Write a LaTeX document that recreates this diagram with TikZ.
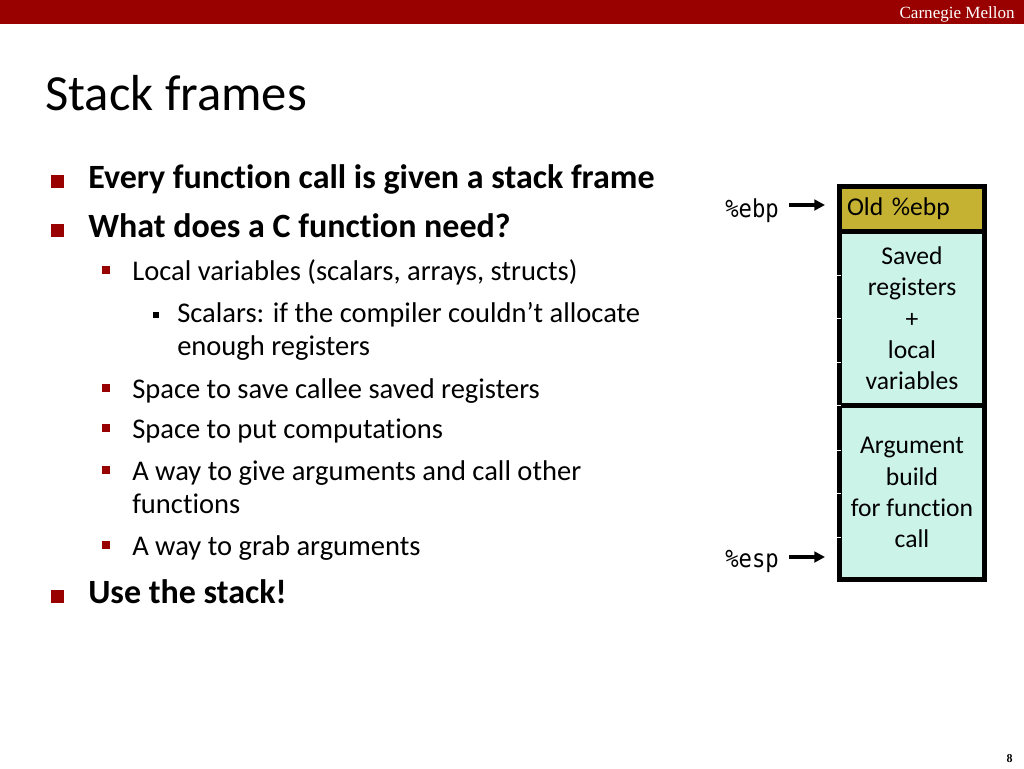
\documentclass[tikz,border=0pt]{standalone}
\usepackage{fontspec}
\setmainfont{Carlito}[Ligatures=NoCommon]
\newfontfamily\cmufont{Liberation Serif}
\newfontfamily\regfont{DejaVu Sans Mono}[FakeStretch=0.9]
\usetikzlibrary{positioning,arrows.meta}
\definecolor{cmured}{RGB}{153,0,0}
\definecolor{oldgold}{RGB}{197,178,50}
\definecolor{cellcyan}{RGB}{204,243,232}

\begin{document}
\begin{tikzpicture}[x=0.75pt, y=-0.75pt,
  lvlone/.style={anchor=base west, inner sep=0pt, font=\fontsize{25.5}{30}\selectfont\bfseries},
  lvltwo/.style={anchor=base west, inner sep=0pt, align=left, font=\fontsize{21.4}{24.75}\selectfont},
  sqone/.style={fill=cmured, inner sep=0pt, minimum size=9.75pt},
  sqtwo/.style={fill=cmured, inner sep=0pt, minimum size=6pt},
  sqthree/.style={fill=black, inner sep=0pt, minimum size=4.5pt},
  cell/.style={draw=black, line width=3.75pt, minimum width=108.75pt, inner sep=0pt, outer sep=0pt,
               align=center, font=\fontsize{19.2}{23.4}\selectfont},
  reg/.style={anchor=base west, inner sep=0pt, font=\regfont\fontsize{18.5}{20}\selectfont},
  ptr/.style={-{Triangle[length=8pt, width=8pt]}, line width=2.6pt}]

  \useasboundingbox (0,0) rectangle (1024,768);

  % header bar
  \fill[cmured] (0,0) rectangle (1024,24);
  \node[anchor=base east, inner sep=0pt, text=white, font=\cmufont\fontsize{12.8}{14}\selectfont]
    (cmu) at (1015,18) {Carnegie Mellon};
  \node[anchor=base west, inner sep=0pt, font=\fontsize{38}{44}\selectfont] (title) at (45,110) {Stack frames};

  % bullet list
  \node[sqone] (b1) at (57,181) {};
  \node[lvlone] (every) at (88,188) {Every function call is given a stack frame};
  \node[sqone] (b2) at (57,230) {};
  \node[lvlone] (need) at (88,237) {What does a C function need?};

  \node[sqtwo] (b3) at (106,270) {};
  \node[lvltwo] (local) at (132,280) {Local variables (scalars, arrays, structs)};
  \node[sqthree] (b4) at (156,314.5) {};
  \node[lvltwo] (scalars) at (177,355) {Scalars: if the compiler couldn’t allocate\\enough registers};
  \node[sqtwo] (b5) at (106,388) {};
  \node[lvltwo] (callee) at (132,398) {Space to save callee saved registers};
  \node[sqtwo] (b6) at (106,428) {};
  \node[lvltwo] (comp) at (132,438) {Space to put computations};
  \node[sqtwo] (b7) at (106,470) {};
  \node[lvltwo] (give) at (132,513) {A way to give arguments and call other\\functions};
  \node[sqtwo] (b8) at (106,545) {};
  \node[lvltwo] (grab) at (132,555) {A way to grab arguments};

  \node[sqone] (b9) at (57,596) {};
  \node[lvlone] (use) at (88,603) {Use the stack!};

  % stack frame
  \node[cell, fill=oldgold, anchor=north, minimum height=33.4pt, text width=97.5pt, inner xsep=5.6pt, align=left]
    (old) at (912,186.5) {Old \%ebp};
  \node[cell, fill=cellcyan, below=0pt of old, minimum height=130.9pt]
    (saved) {Saved\\registers\\+\\local\\variables};
  \node[cell, fill=cellcyan, below=0pt of saved, minimum height=130.5pt]
    (arg) {Argument\\build\\for function\\call};

  \foreach \y in {275,318,362,405,450,493,537}
    \draw[white, line width=0.75pt] (837,\y) -- (841,\y);

  % pointers
  \node[reg] (ebp) at (725,217) {\%ebp};
  \node[reg] (esp) at (725,567) {\%esp};
  \coordinate (ebptip) at (825,205);
  \coordinate (esptip) at (825,557);
  \draw[ptr, shorten <=7.5pt] (ebp.east |- ebptip) -- (ebptip);
  \draw[ptr, shorten <=7.5pt] (esp.east |- esptip) -- (esptip);

  \node[anchor=base east, inner sep=0pt, font=\cmufont\bfseries\fontsize{9}{10}\selectfont] (page) at (1013,762) {8};

\end{tikzpicture}
\end{document}
